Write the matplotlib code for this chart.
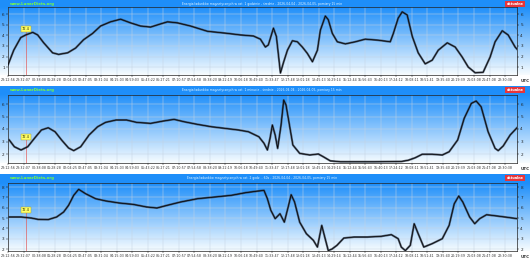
import matplotlib
matplotlib.use("Agg")
import matplotlib.pyplot as plt
import numpy as np

# ---------------- data ----------------
time_labels = ["23:12:56", "23:32:07", "00:38:08", "01:28:28", "02:04:25", "02:47:05",
               "03:31:04", "04:15:03", "04:59:03", "05:43:22", "06:27:21", "07:10:57",
               "07:54:58", "08:38:20", "09:22:19", "10:06:18", "10:49:40", "11:33:47",
               "12:17:48", "13:01:18", "13:45:13", "14:29:14", "15:12:44", "15:56:43",
               "16:40:13", "17:24:12", "18:08:11", "18:51:41", "19:35:40", "20:19:39",
               "21:03:08", "21:47:08", "22:30:38"]

titles = ["Energia ładunków magnetycznych w ost. 1 godzinie - średnie - 2026-04-04 - 2026-04-05, pomiary 15 min",
          "Energia ładunków magnetycznych w ost. 1 minucie - średnie - 2026-04-04 - 2026-04-05, pomiary 15 min",
          "Energia ładunków magnetycznych w ost. 2 godz. - 60s - 2026-04-04 - 2026-04-05, pomiary 15 min"]
site_label = "www.LunarDiets.org"
badge_label = "aktualne"
marker_label = "72.4"
marker_x = 1.14

p1_x = [0.0, 0.37, 0.82, 1.14, 1.59, 1.91, 2.30, 2.87, 3.26, 3.84, 4.35, 4.87, 5.45, 5.96,
        6.60, 7.25, 7.89, 8.53, 9.18, 9.82, 10.27, 10.91, 11.75, 12.84, 14.13, 14.97, 15.80,
        16.25, 16.57, 16.76, 17.09, 17.28, 17.54, 17.73, 17.99, 18.31, 18.63, 18.95, 19.27,
        19.60, 19.92, 20.11, 20.43, 20.62, 20.88, 21.20, 21.72, 22.36, 23.00, 23.84, 24.61,
        24.81, 25.12, 25.38, 25.70, 26.03, 26.41, 26.86, 27.31, 27.70, 28.28, 28.79, 29.24,
        29.63, 30.08, 30.59, 31.04, 31.36, 31.82, 32.20, 32.65, 32.77]
p1_y = [1.2, 2.6, 3.8, 4.05, 4.3, 4.05, 3.3, 2.35, 2.2, 2.35, 2.8, 3.6, 4.2, 4.9,
        5.3, 5.55, 5.2, 4.9, 4.8, 5.1, 5.3, 5.2, 4.9, 4.4, 4.2, 4.05, 3.95,
        3.65, 2.9, 3.1, 4.7, 3.9, 0.43, 1.4, 2.6, 3.5, 3.4, 2.9, 2.3,
        1.5, 2.6, 4.5, 5.85, 5.5, 4.2, 3.4, 3.2, 3.4, 3.65, 3.55, 3.4,
        4.2, 5.65, 6.25, 5.95, 3.9, 2.35, 1.3, 1.65, 2.6, 3.3, 2.9, 1.95,
        1.0, 0.45, 0.5, 1.95, 3.4, 4.45, 4.05, 2.9, 2.7]

p2_x = [0.08, 0.41, 0.84, 1.27, 1.72, 2.15, 2.59, 3.03, 3.45, 3.90, 4.23, 4.68, 5.22, 5.77,
        6.28, 6.96, 7.63, 8.28, 9.18, 10.01, 10.69, 11.34, 12.20, 13.10, 13.97, 14.84,
        15.48, 16.15, 16.48, 16.70, 16.87, 17.02, 17.20, 17.36, 17.58, 17.75, 17.90, 18.12,
        18.34, 18.78, 19.43, 19.98, 20.30, 20.75, 21.40, 23.58, 25.32, 25.77, 26.22, 26.67,
        27.31, 27.96, 28.40, 28.95, 29.37, 29.83, 30.14, 30.46, 30.91, 31.36, 31.56, 31.88,
        32.33, 32.77]
p2_y = [3.12, 2.58, 2.32, 2.58, 3.28, 3.92, 4.1, 3.78, 3.12, 2.48, 2.27, 2.58, 3.52, 4.18,
        4.53, 4.72, 4.72, 4.53, 4.45, 4.64, 4.77, 4.58, 4.37, 4.18, 4.05, 3.92,
        3.78, 3.38, 2.86, 2.32, 3.25, 4.32, 3.52, 2.45, 4.32, 6.32, 5.92, 4.32,
        2.72, 2.05, 1.92, 2.0, 1.78, 1.45, 1.38, 1.38, 1.4, 1.5, 1.7, 1.98,
        1.98, 1.92, 2.18, 3.12, 4.85, 6.05, 6.24, 5.78, 3.78, 2.45, 2.27, 2.64,
        3.52, 4.1]

p3_x = [0.08, 0.84, 1.50, 1.94, 2.59, 3.13, 3.58, 3.90, 4.23, 4.55, 5.00, 5.64, 6.31, 7.18,
        8.06, 8.92, 9.59, 10.25, 11.11, 12.20, 13.29, 14.39, 15.29, 15.93, 16.48, 16.70,
        16.92, 17.20, 17.51, 17.79, 18.01, 18.23, 18.45, 18.78, 19.21, 19.66, 19.92, 20.20,
        20.42, 20.62, 20.86, 21.18, 21.62, 22.28, 23.13, 24.03, 24.68, 25.12, 25.32, 25.58,
        25.90, 26.15, 26.41, 26.77, 27.31, 27.96, 28.40, 28.73, 29.02, 29.28, 29.72, 30.05,
        30.37, 30.81, 31.47, 32.14, 32.77]
p3_y = [5.1, 5.1, 5.0, 4.87, 4.85, 5.1, 5.58, 6.23, 7.2, 7.78, 7.35, 6.87, 6.65, 6.45,
        6.32, 6.07, 5.97, 6.23, 6.55, 6.87, 7.03, 7.2, 7.45, 7.58, 7.68, 6.87,
        5.75, 4.94, 5.42, 4.6, 5.9, 7.26, 6.55, 4.6, 3.48, 2.84, 2.19, 4.29,
        3.0, 1.85, 2.0, 2.36, 3.06, 3.16, 3.16, 3.23, 3.39, 3.0, 2.19, 1.85,
        2.36, 4.45, 3.48, 2.19, 2.52, 3.0, 4.29, 6.38, 7.13, 6.55, 5.1, 4.45,
        4.94, 5.32, 5.2, 5.07, 4.94]

series_x = [p1_x, p2_x, p3_x]
series_y = [p1_y, p2_y, p3_y]
y_ticks = [[1, 2, 3, 4, 5, 6], [2, 3, 4, 5, 6], [2, 3, 4, 5, 6, 7, 8]]
y_lims = [(0.24, 6.71), (1.28, 6.72), (1.81, 8.39)]
marker_y = [4.6, 3.36, 5.78]

# ---------------- layout (pixels) ----------------
W, H = 530, 263
hdr_top = [0, 86, 174]
plot_top = [7, 95, 183]
plot_bot = [75, 163, 251]
label_row = [80, 168, 256]
x_left, x_right = 8, 517

fig = plt.figure(figsize=(W / 100, H / 100), dpi=100)
fig.patch.set_facecolor("white")

def fy(py):
    return 1 - py / H

top_rgb = np.array([0.12, 0.56, 0.98])
bot_rgb = np.array([0.97, 0.99, 1.0])

for i in range(3):
    # background gradient
    bg = fig.add_axes([0, fy(plot_bot[i]), 1, (plot_bot[i] - hdr_top[i]) / H], zorder=0)
    n = 200
    t = np.linspace(0, 1, n)[:, None]
    hdr_frac = (plot_top[i] - hdr_top[i]) / (plot_bot[i] - hdr_top[i])
    tt = np.clip((t - hdr_frac) / (1 - hdr_frac), 0, 1)
    grad = top_rgb[None, :] * (1 - tt) + bot_rgb[None, :] * tt
    grad = np.repeat(grad[:, None, :], 2, axis=1)
    bg.imshow(grad, aspect="auto", extent=[0, 1, 0, 1], interpolation="bilinear")
    bg.set_xlim(0, 1)
    bg.set_ylim(0, 1)
    bg.axis("off")

    ax = fig.add_axes([x_left / W, fy(plot_bot[i]), (x_right - x_left) / W,
                       (plot_bot[i] - plot_top[i]) / H], zorder=2)
    ax.set_facecolor("none")
    ax.set_xlim(0.045, 32.77)
    ax.set_ylim(*y_lims[i])
    ax.set_xticks(np.arange(len(time_labels)))
    ax.set_xticklabels(time_labels, fontsize=2.3, color="#333333")
    ax.set_yticks(y_ticks[i])
    ax.set_yticklabels([str(v) for v in y_ticks[i]], fontsize=3, color="#222222")
    ax.tick_params(axis="both", length=1.2, width=0.3, pad=1.2, labelright=True, right=True)
    ax.grid(True, color="#c5d3e2", lw=0.35)
    for s in ax.spines.values():
        s.set_linewidth(0.5)
        s.set_color("#222222")

    ax.plot(series_x[i], series_y[i], color="#2a3344", lw=1.5, alpha=0.75,
            solid_joinstyle="round", zorder=3)
    ax.plot(series_x[i], series_y[i], color="black", lw=0.5, zorder=4)

    ax.plot([marker_x, marker_x], [y_lims[i][0], marker_y[i]], color="#e06060", lw=0.5, zorder=2.5)
    ax.text(marker_x, marker_y[i], marker_label, fontsize=2.6, ha="center", va="center",
            color="#333300", zorder=5,
            bbox=dict(boxstyle="square,pad=0.35", fc="#ffff66", ec="#999933", lw=0.3))

    # header texts
    hy = fy(hdr_top[i] + 3.8)
    fig.text(10 / W, hy, site_label, fontsize=2.8, color="#7cff3a", weight="bold",
             ha="left", va="center", zorder=5)
    fig.text(262 / W, hy, titles[i], fontsize=2.2, color="#e6f6ff", ha="center",
             va="center", zorder=5)
    fig.text(515 / W, hy, badge_label, fontsize=2.5, color="white", ha="center", va="center",
             weight="bold", zorder=5,
             bbox=dict(boxstyle="square,pad=0.3", fc="#e8353a", ec="none"))
    fig.text(525 / W, fy(label_row[i] + 1), "UTC", fontsize=3, color="#333333",
             weight="bold", ha="center", va="center", zorder=5)

fig.savefig("out.png", dpi=100, facecolor="white")
